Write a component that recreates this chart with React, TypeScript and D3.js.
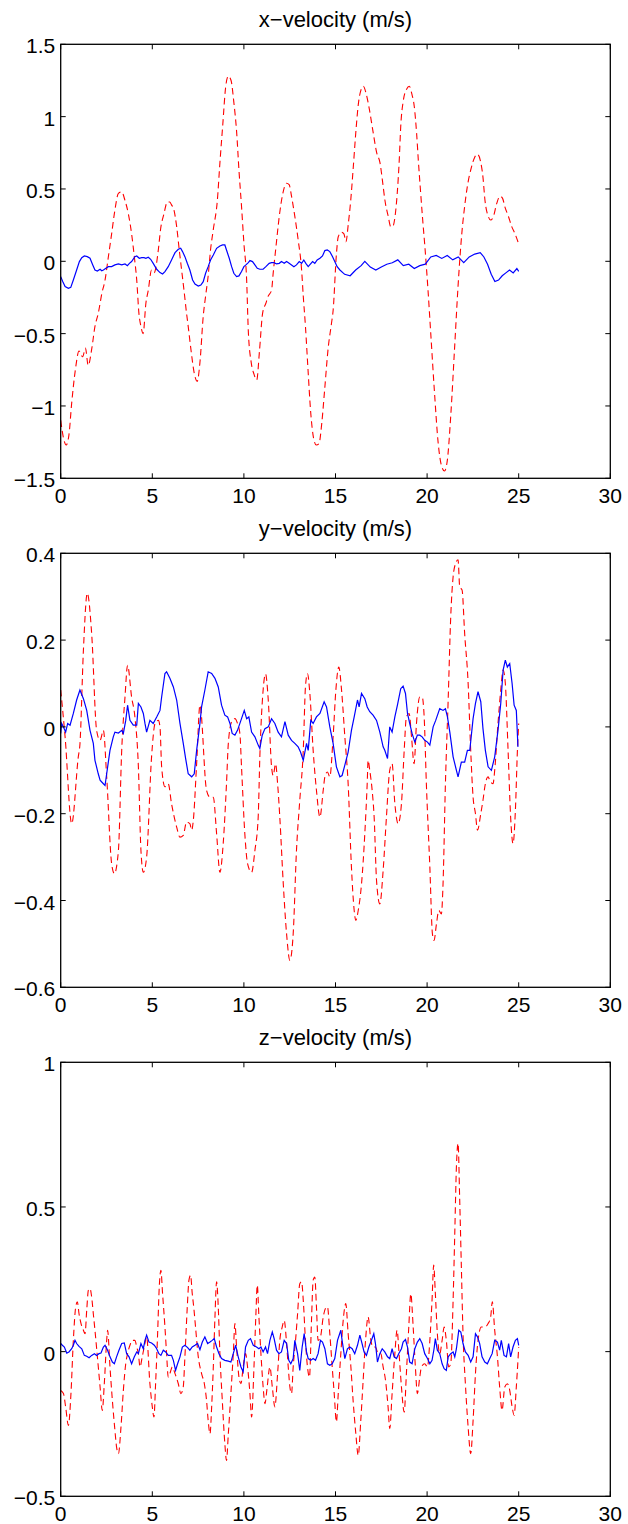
import React from "react";
import * as d3 from "d3";

type Pt = [number, number];

// time axis (s)
const xTicks = [0, 5, 10, 15, 20, 25, 30];

// x-velocity: blue = solid trace, red = dashed trace
const xVelBlue: Pt[] = [
  [0, -0.106], [0.11, -0.14], [0.24, -0.175], [0.42, -0.187], [0.55, -0.18], [0.69, -0.129], [0.87, -0.06],
  [1.02, -0.002], [1.15, 0.025], [1.29, 0.037], [1.45, 0.032], [1.6, 0.021], [1.75, -0.025], [1.87, -0.06],
  [2.0, -0.067], [2.15, -0.055], [2.24, -0.065], [2.33, -0.06], [2.47, -0.048], [2.6, -0.037], [2.78, -0.037],
  [2.96, -0.025], [3.15, -0.018], [3.33, -0.025], [3.51, -0.018], [3.64, -0.03], [3.75, -0.014], [3.87, -0.002],
  [4.05, 0.032], [4.15, 0.037], [4.29, 0.021], [4.42, 0.025], [4.55, 0.025], [4.65, 0.021], [4.78, 0.028],
  [4.91, 0.014], [5.05, -0.014], [5.24, -0.055], [5.42, -0.078], [5.56, -0.088], [5.69, -0.071], [5.87, -0.037],
  [6.05, 0.009], [6.24, 0.06], [6.42, 0.083], [6.55, 0.09], [6.65, 0.067], [6.78, 0.032], [6.91, -0.014],
  [7.05, -0.06], [7.2, -0.129], [7.33, -0.157], [7.51, -0.171], [7.65, -0.164], [7.78, -0.141], [7.91, -0.083],
  [8.05, -0.037], [8.18, 0.009], [8.33, 0.044], [8.51, 0.09], [8.69, 0.106], [8.84, 0.113], [8.96, 0.113],
  [9.05, 0.078], [9.2, 0.021], [9.33, -0.037], [9.45, -0.083], [9.6, -0.106], [9.73, -0.101], [9.87, -0.071],
  [10.0, -0.037], [10.11, -0.025], [10.24, -0.009], [10.33, 0.005], [10.47, -0.002], [10.6, -0.025],
  [10.73, -0.048], [10.87, -0.055], [11.05, -0.055], [11.2, -0.037], [11.38, -0.014], [11.51, -0.009],
  [11.65, -0.009], [11.78, -0.018], [11.93, -0.014], [12.05, -0.002], [12.2, -0.014], [12.33, -0.002],
  [12.47, -0.014], [12.6, -0.025], [12.73, -0.037], [12.87, -0.025], [13.02, -0.002], [13.15, -0.014],
  [13.27, 0.009], [13.38, -0.014], [13.51, -0.037], [13.64, -0.018], [13.75, -0.002], [13.87, -0.014],
  [14.0, 0.009], [14.15, 0.021], [14.29, 0.037], [14.42, 0.074], [14.55, 0.078], [14.69, 0.067], [14.84, 0.032],
  [14.96, -0.002], [15.09, -0.037], [15.24, -0.06], [15.5, -0.09], [15.8, -0.1], [16.1, -0.06], [16.4, -0.03],
  [16.6, 0.0], [16.9, -0.04], [17.2, -0.06], [17.5, -0.04], [17.8, -0.02], [18.1, -0.01], [18.4, 0.01],
  [18.7, -0.03], [19.0, -0.02], [19.3, -0.05], [19.6, -0.03], [19.9, -0.02], [20.2, 0.03], [20.5, 0.04],
  [20.8, 0.02], [21.1, 0.04], [21.4, 0.01], [21.7, 0.03], [22.0, -0.01], [22.3, 0.03], [22.6, 0.05],
  [22.9, 0.06], [23.1, 0.03], [23.3, -0.02], [23.5, -0.09], [23.7, -0.14], [23.9, -0.13], [24.1, -0.1],
  [24.3, -0.08], [24.5, -0.06], [24.7, -0.08], [24.9, -0.05], [25.0, -0.07],
];

const xVelRed: Pt[] = [
  [0, -1.1], [0.15, -1.22], [0.3, -1.27], [0.45, -1.2], [0.6, -0.98], [0.8, -0.75], [1.0, -0.62], [1.2, -0.66],
  [1.35, -0.6], [1.5, -0.72], [1.7, -0.6], [1.87, -0.45], [2.05, -0.36], [2.25, -0.22], [2.42, -0.13],
  [2.6, 0.03], [2.78, 0.19], [2.96, 0.355], [3.15, 0.47], [3.33, 0.48], [3.51, 0.42], [3.69, 0.33],
  [3.87, 0.19], [4.02, 0.03], [4.15, -0.13], [4.27, -0.36], [4.38, -0.45], [4.5, -0.5], [4.65, -0.29],
  [4.78, -0.2], [4.96, -0.06], [5.1, -0.08], [5.33, 0.08], [5.45, 0.22], [5.64, 0.33], [5.82, 0.41],
  [5.95, 0.41], [6.05, 0.39], [6.18, 0.355], [6.33, 0.24], [6.47, 0.08], [6.6, -0.06], [6.73, -0.2],
  [6.87, -0.36], [6.96, -0.45], [7.1, -0.6], [7.3, -0.78], [7.45, -0.83], [7.6, -0.7], [7.78, -0.38],
  [7.91, -0.24], [8.05, -0.1], [8.18, 0.08], [8.33, 0.22], [8.55, 0.42], [8.69, 0.68], [8.85, 0.95],
  [9.0, 1.2], [9.15, 1.28], [9.3, 1.25], [9.45, 1.1], [9.6, 0.9], [9.73, 0.63], [9.87, 0.38], [10.0, 0.125],
  [10.15, -0.13], [10.24, -0.48], [10.4, -0.7], [10.55, -0.78], [10.7, -0.82], [10.85, -0.62], [11.02, -0.36],
  [11.2, -0.29], [11.33, -0.24], [11.51, -0.2], [11.6, -0.08], [11.75, 0.1], [11.93, 0.31], [12.11, 0.46],
  [12.33, 0.54], [12.47, 0.53], [12.6, 0.45], [12.78, 0.31], [12.96, 0.15], [13.15, -0.06], [13.24, -0.24],
  [13.36, -0.45], [13.5, -0.75], [13.65, -1.05], [13.8, -1.22], [13.95, -1.27], [14.1, -1.26], [14.25, -1.12],
  [14.4, -0.9], [14.6, -0.6], [14.78, -0.43], [14.87, -0.34], [15.05, 0.05], [15.15, 0.17], [15.34, 0.2],
  [15.46, 0.19], [15.57, 0.135], [15.7, 0.26], [15.83, 0.42], [15.97, 0.65], [16.12, 0.91], [16.25, 1.09],
  [16.38, 1.18], [16.52, 1.21], [16.67, 1.16], [16.85, 1.05], [17.03, 0.91], [17.25, 0.75], [17.43, 0.68],
  [17.58, 0.54], [17.7, 0.42], [17.88, 0.31], [18.01, 0.24], [18.12, 0.24], [18.25, 0.31], [18.37, 0.47],
  [18.48, 0.7], [18.56, 0.93], [18.7, 1.11], [18.88, 1.19], [19.03, 1.21], [19.16, 1.16], [19.3, 1.07],
  [19.43, 0.88], [19.52, 0.7], [19.65, 0.47], [19.76, 0.285], [19.88, 0.1], [20.05, -0.2], [20.2, -0.5],
  [20.4, -0.9], [20.6, -1.25], [20.8, -1.42], [20.95, -1.45], [21.1, -1.38], [21.3, -1.05], [21.5, -0.6],
  [21.7, -0.15], [21.9, 0.2], [22.05, 0.38], [22.2, 0.52], [22.4, 0.64], [22.6, 0.72], [22.75, 0.74],
  [22.9, 0.7], [23.05, 0.58], [23.16, 0.42], [23.34, 0.31], [23.47, 0.285], [23.62, 0.31], [23.8, 0.4],
  [23.98, 0.45], [24.12, 0.435], [24.25, 0.375], [24.44, 0.31], [24.62, 0.24], [24.8, 0.19], [25.0, 0.12],
];

// y-velocity
const yVelBlue: Pt[] = [
  [0, -0.015], [0.05, 0.008], [0.15, 0], [0.27, -0.012], [0.38, 0.008], [0.51, 0.004], [0.69, 0.031],
  [0.87, 0.062], [1.05, 0.085], [1.24, 0.065], [1.42, 0.038], [1.6, -0.008], [1.78, -0.038], [1.87, -0.077],
  [2.05, -0.108], [2.15, -0.123], [2.33, -0.131], [2.42, -0.135], [2.51, -0.108], [2.69, -0.054],
  [2.87, -0.023], [2.96, -0.012], [3.15, -0.014], [3.33, -0.008], [3.42, -0.015], [3.55, 0.015], [3.65, 0.05],
  [3.78, 0.015], [3.96, 0.004], [4.15, 0.004], [4.24, 0.054], [4.38, 0.046], [4.51, 0.031], [4.6, 0.008],
  [4.69, -0.012], [4.87, 0.015], [5.05, 0.008], [5.24, 0.023], [5.42, 0.038], [5.51, 0.069], [5.69, 0.123],
  [5.78, 0.127], [5.96, 0.112], [6.15, 0.092], [6.33, 0.062], [6.51, 0.008], [6.69, -0.038], [6.82, -0.073],
  [6.96, -0.108], [7.15, -0.115], [7.29, -0.108], [7.42, -0.054], [7.6, 0.008], [7.69, 0.046], [7.87, 0.085],
  [8.05, 0.127], [8.24, 0.123], [8.42, 0.112], [8.6, 0.092], [8.78, 0.05], [8.96, 0.027], [9.11, 0.023],
  [9.24, 0.008], [9.36, -0.015], [9.51, -0.019], [9.65, -0.008], [9.87, 0.019], [10.02, 0.038], [10.15, 0.019],
  [10.27, 0.023], [10.42, -0.012], [10.6, -0.023], [10.78, -0.042], [10.87, -0.05], [11.0, -0.019],
  [11.15, -0.004], [11.33, 0], [11.51, 0.019], [11.69, 0.008], [11.87, -0.012], [12.05, -0.023], [12.24, 0.012],
  [12.42, -0.019], [12.6, -0.031], [12.78, -0.038], [12.96, -0.046], [13.09, -0.058], [13.24, -0.077],
  [13.42, -0.038], [13.51, -0.054], [13.65, 0.015], [13.78, 0.008], [13.96, 0.023], [14.15, 0.031],
  [14.38, 0.058], [14.51, 0.046], [14.69, 0], [14.87, -0.038], [15.05, -0.092], [15.24, -0.115],
  [15.36, -0.112], [15.51, -0.088], [15.69, -0.058], [15.87, -0.008], [16.02, 0.023], [16.2, 0.062],
  [16.29, 0.046], [16.42, 0.077], [16.6, 0.065], [16.73, 0.046], [16.87, 0.035], [17.05, 0.027], [17.24, 0.015],
  [17.42, -0.012], [17.6, -0.046], [17.69, -0.054], [17.84, -0.073], [17.96, 0], [18.09, -0.012], [18.24, 0.023],
  [18.38, 0.05], [18.56, 0.088], [18.69, 0.094], [18.82, 0.077], [18.93, 0.031], [19.05, 0.008],
  [19.18, -0.015], [19.33, -0.035], [19.47, -0.019], [19.6, -0.019], [19.73, -0.023], [19.87, -0.031],
  [20.02, -0.035], [20.15, -0.042], [20.33, 0], [20.47, 0.015], [20.69, 0.042], [20.87, 0.038], [21.0, 0.042],
  [21.11, 0.023], [21.24, -0.012], [21.42, -0.069], [21.6, -0.1], [21.69, -0.115], [21.87, -0.081],
  [22.05, -0.081], [22.2, -0.054], [22.33, -0.054], [22.51, 0.019], [22.64, 0.054], [22.78, 0.081],
  [22.93, 0.058], [23.05, -0.004], [23.18, -0.054], [23.33, -0.092], [23.51, -0.1], [23.69, -0.069],
  [23.87, -0.008], [24.02, 0.054], [24.15, 0.131], [24.27, 0.154], [24.38, 0.138], [24.51, 0.146],
  [24.64, 0.1], [24.75, 0.05], [24.87, 0.038], [24.96, -0.046],
];

const yVelRed: Pt[] = [
  [0, 0.085], [0.24, -0.023], [0.6, -0.223], [0.96, -0.069], [1.05, -0.04], [1.24, 0.177], [1.45, 0.308],
  [1.69, 0.215], [1.96, -0.008], [2.15, -0.031], [2.33, -0.008], [2.51, -0.115], [2.78, -0.315], [2.93, -0.338],
  [3.15, -0.285], [3.33, -0.054], [3.51, 0.069], [3.65, 0.142], [3.87, 0.069], [4.05, 0.023], [4.24, -0.092],
  [4.38, -0.285], [4.51, -0.335], [4.69, -0.3], [4.96, -0.069], [5.15, 0.008], [5.33, 0.015], [5.42, 0],
  [5.51, -0.092], [5.69, -0.138], [5.87, -0.131], [6.05, -0.177], [6.33, -0.231], [6.51, -0.254],
  [6.69, -0.25], [6.87, -0.219], [7.05, -0.223], [7.15, -0.238], [7.24, -0.215], [7.42, -0.085], [7.6, 0.05],
  [7.96, -0.146], [8.15, -0.162], [8.33, -0.162], [8.51, -0.246], [8.69, -0.335], [8.87, -0.269],
  [9.05, -0.131], [9.15, -0.038], [9.33, 0.012], [9.51, 0.019], [9.65, 0.008], [9.78, -0.015], [9.87, -0.092],
  [10.05, -0.246], [10.2, -0.315], [10.42, -0.335], [10.6, -0.285], [10.78, -0.208], [10.87, -0.069],
  [11.05, 0.085], [11.18, 0.122], [11.33, 0.062], [11.51, -0.092], [11.6, -0.112], [11.73, -0.085],
  [11.84, -0.131], [11.96, -0.208], [12.15, -0.362], [12.33, -0.477], [12.51, -0.538], [12.69, -0.477],
  [12.87, -0.285], [13.05, -0.169], [13.24, -0.054], [13.36, 0.092], [13.47, 0.123], [13.6, 0.077],
  [13.78, -0.054], [13.96, -0.146], [14.15, -0.208], [14.33, -0.146], [14.42, -0.115], [14.56, -0.104],
  [14.69, -0.115], [14.87, -0.023], [15.02, 0.085], [15.18, 0.138], [15.33, 0.085], [15.51, -0.023],
  [15.69, -0.131], [15.87, -0.323], [16.02, -0.423], [16.11, -0.446], [16.24, -0.423], [16.42, -0.362],
  [16.6, -0.246], [16.73, -0.131], [16.78, -0.077], [16.87, -0.1], [17.0, -0.146], [17.11, -0.208],
  [17.24, -0.354], [17.42, -0.408], [17.6, -0.331], [17.78, -0.208], [17.96, -0.1], [18.09, -0.085],
  [18.24, -0.177], [18.42, -0.223], [18.6, -0.177], [18.75, -0.054], [18.87, 0.023], [19.02, 0.031],
  [19.15, -0.023], [19.29, -0.085], [19.42, 0.008], [19.6, 0.069], [19.73, 0.069], [19.84, 0.023],
  [19.96, -0.131], [20.15, -0.323], [20.29, -0.477], [20.38, -0.492], [20.51, -0.454], [20.64, -0.423],
  [20.78, -0.431], [20.87, -0.362], [21.0, -0.131], [21.15, 0.062], [21.29, 0.254], [21.42, 0.346],
  [21.56, 0.377], [21.69, 0.385], [21.78, 0.323], [21.91, 0.315], [22.05, 0.215], [22.24, 0.1],
  [22.38, -0.054], [22.51, -0.162], [22.64, -0.2], [22.75, -0.238], [22.93, -0.2], [23.05, -0.169],
  [23.18, -0.131], [23.33, -0.115], [23.42, -0.123], [23.6, -0.131], [23.69, -0.1], [23.87, 0.008],
  [24.02, 0.085], [24.15, 0.131], [24.27, 0.1], [24.42, -0.054], [24.56, -0.208], [24.69, -0.269],
  [24.82, -0.192], [24.93, -0.054], [25.0, 0.008],
];

// z-velocity
const zVelBlue: Pt[] = [
  [0, 0.028], [0.09, 0.022], [0.2, 0.016], [0.33, -0.005], [0.45, -0.001], [0.6, 0.01], [0.69, 0.022],
  [0.78, 0.039], [0.87, 0.028], [1.0, 0.018], [1.15, 0.01], [1.29, -0.013], [1.42, -0.016], [1.55, -0.021],
  [1.69, -0.013], [1.84, -0.007], [1.96, -0.013], [2.09, -0.007], [2.2, -0.005], [2.33, 0.016], [2.42, 0.022],
  [2.56, 0.005], [2.69, -0.018], [2.82, -0.036], [2.93, -0.042], [3.05, -0.018], [3.18, 0.005], [3.33, 0.028],
  [3.47, 0.03], [3.6, -0.007], [3.73, -0.018], [3.87, -0.042], [4.02, -0.018], [4.15, -0.001], [4.24, -0.007],
  [4.38, 0.028], [4.51, 0.01], [4.6, 0.039], [4.69, 0.057], [4.82, 0.033], [4.96, 0.03], [5.11, 0.022],
  [5.24, 0.01], [5.36, -0.007], [5.47, -0.013], [5.6, 0.005], [5.73, -0.001], [5.87, -0.013], [6.05, -0.013],
  [6.15, -0.03], [6.27, -0.065], [6.38, -0.042], [6.51, -0.018], [6.64, 0.016], [6.78, 0.022], [6.93, 0.014],
  [7.05, 0.005], [7.18, 0.016], [7.33, 0.022], [7.47, 0.028], [7.6, 0.007], [7.73, 0.033], [7.87, 0.051],
  [8.02, 0.028], [8.15, 0.033], [8.27, 0.039], [8.38, 0.045], [8.51, 0.016], [8.64, -0.007], [8.78, -0.024],
  [8.96, -0.03], [9.15, -0.033], [9.29, -0.036], [9.42, -0.007], [9.55, 0.022], [9.69, -0.018], [9.84, -0.053],
  [9.96, -0.07], [10.09, 0.016], [10.24, 0.039], [10.36, 0.045], [10.51, 0.022], [10.69, 0.016], [10.82, 0.01],
  [10.93, 0.016], [11.05, -0.001], [11.18, 0.016], [11.29, -0.007], [11.42, 0.039], [11.55, 0.068],
  [11.65, 0.045], [11.78, 0.005], [11.91, -0.007], [12.05, -0.001], [12.2, 0.039], [12.33, 0.028],
  [12.45, -0.03], [12.56, -0.042], [12.69, -0.024], [12.78, 0.039], [12.93, -0.007], [13.05, -0.065],
  [13.18, 0.016], [13.29, 0.062], [13.42, -0.001], [13.51, -0.024], [13.65, -0.03], [13.78, -0.024],
  [13.91, -0.03], [14.05, -0.007], [14.18, 0.039], [14.29, 0.033], [14.42, 0.01], [14.56, -0.042],
  [14.69, -0.047], [14.82, -0.042], [14.96, -0.024], [15.11, 0.039], [15.29, 0.074], [15.36, 0.039],
  [15.51, -0.024], [15.65, 0.01], [15.78, 0.016], [15.91, 0.01], [16.05, -0.007], [16.2, 0.022], [16.33, 0.057],
  [16.45, 0.028], [16.56, -0.001], [16.69, -0.013], [16.82, 0.016], [16.96, 0.039], [17.09, 0.062],
  [17.18, 0.028], [17.29, -0.036], [17.42, -0.007], [17.55, 0.01], [17.69, -0.001], [17.84, -0.018],
  [17.96, -0.024], [18.09, 0.01], [18.2, -0.018], [18.33, -0.024], [18.45, -0.007], [18.6, 0.01], [18.69, 0.033],
  [18.82, 0.042], [18.93, 0.016], [19.05, -0.036], [19.18, -0.042], [19.33, 0.01], [19.47, 0.033], [19.6, 0.045],
  [19.73, 0.028], [19.87, -0.007], [20.02, -0.024], [20.15, -0.042], [20.27, -0.03], [20.38, 0.01],
  [20.45, 0.045], [20.56, 0.005], [20.69, -0.007], [20.82, -0.042], [20.93, -0.059], [21.05, -0.065],
  [21.15, -0.018], [21.29, -0.007], [21.42, -0.001], [21.51, -0.018], [21.6, 0.01], [21.73, 0.074],
  [21.84, 0.068], [21.96, 0.028], [22.09, -0.001], [22.24, -0.013], [22.38, -0.036], [22.51, -0.018],
  [22.64, 0.062], [22.75, 0.051], [22.87, 0.028], [23.0, -0.018], [23.15, -0.036], [23.29, -0.042],
  [23.42, -0.024], [23.55, -0.007], [23.69, 0.039], [23.84, 0.033], [23.96, 0.005], [24.05, 0.039],
  [24.2, -0.013], [24.33, -0.018], [24.45, 0.028], [24.56, -0.018], [24.69, 0.016], [24.82, 0.039],
  [24.93, 0.045], [25.0, 0.022],
];

const zVelRed: Pt[] = [
  [0, -0.134], [0.15, -0.145], [0.27, -0.191], [0.42, -0.255], [0.56, -0.145], [0.69, 0.039], [0.82, 0.155],
  [0.91, 0.172], [1.0, 0.131], [1.11, 0.097], [1.24, 0.074], [1.33, 0.062], [1.42, 0.143], [1.51, 0.212],
  [1.6, 0.218], [1.69, 0.189], [1.78, 0.131], [1.87, 0.074], [2.02, -0.03], [2.15, -0.122], [2.27, -0.203],
  [2.38, -0.111], [2.51, 0.039], [2.56, 0.074], [2.69, -0.053], [2.82, -0.168], [2.96, -0.272], [3.05, -0.33],
  [3.15, -0.353], [3.29, -0.261], [3.42, -0.134], [3.55, -0.042], [3.65, -0.007], [3.78, 0.022], [3.91, 0.039],
  [4.05, 0.039], [4.15, 0.016], [4.24, -0.007], [4.33, -0.053], [4.45, -0.018], [4.56, 0.016], [4.69, 0.051],
  [4.87, -0.111], [5.0, -0.191], [5.09, -0.226], [5.18, -0.111], [5.29, 0.062], [5.38, 0.224], [5.47, 0.281],
  [5.56, 0.201], [5.69, 0.085], [5.78, -0.007], [5.87, -0.088], [5.96, -0.076], [6.09, -0.053], [6.24, -0.076],
  [6.42, -0.111], [6.56, -0.145], [6.69, -0.122], [6.78, -0.018], [6.91, 0.155], [7.0, 0.247], [7.09, 0.264],
  [7.18, 0.201], [7.27, 0.149], [7.36, 0.085], [7.51, -0.018], [7.69, -0.076], [7.84, -0.111], [7.96, -0.168],
  [8.05, -0.238], [8.15, -0.284], [8.24, -0.191], [8.33, -0.053], [8.42, 0.12], [8.51, 0.241], [8.6, 0.155],
  [8.69, -0.007], [8.82, -0.168], [8.96, -0.318], [9.05, -0.376], [9.15, -0.284], [9.29, -0.145],
  [9.42, -0.007], [9.51, 0.097], [9.6, 0.016], [9.73, -0.088], [9.84, -0.111], [9.96, -0.053], [10.09, -0.007],
  [10.2, -0.053], [10.33, -0.145], [10.42, -0.226], [10.55, -0.053], [10.65, 0.12], [10.73, 0.23],
  [10.82, 0.12], [10.93, -0.007], [11.05, -0.122], [11.15, -0.18], [11.25, -0.134], [11.42, -0.053],
  [11.55, -0.122], [11.69, -0.191], [11.84, -0.076], [11.96, 0.039], [12.09, 0.085], [12.2, 0.108],
  [12.33, 0.028], [12.42, -0.053], [12.51, -0.122], [12.6, -0.145], [12.69, -0.053], [12.82, 0.039],
  [12.93, 0.131], [13.05, 0.235], [13.15, 0.241], [13.24, 0.178], [13.36, 0.039], [13.47, -0.053],
  [13.58, -0.088], [13.69, 0.108], [13.78, 0.247], [13.87, 0.258], [13.96, 0.155], [14.05, 0.039],
  [14.18, 0.051], [14.33, 0.12], [14.45, 0.149], [14.56, 0.155], [14.69, 0.062], [14.82, -0.053],
  [14.93, -0.145], [15.05, -0.243], [15.15, -0.145], [15.29, -0.007], [15.42, 0.108], [15.56, 0.166],
  [15.69, 0.062], [15.84, -0.053], [15.96, -0.168], [16.11, -0.284], [16.24, -0.359], [16.38, -0.238],
  [16.51, -0.099], [16.64, 0.039], [16.78, 0.12], [16.93, 0.039], [17.05, 0.016], [17.18, 0.016],
  [17.33, -0.007], [17.47, -0.007], [17.6, -0.053], [17.73, -0.099], [17.87, -0.191], [17.96, -0.266],
  [18.09, -0.145], [18.24, -0.007], [18.36, 0.074], [18.47, -0.007], [18.6, -0.122], [18.75, -0.209],
  [18.87, -0.076], [19.0, 0.085], [19.11, 0.2], [19.24, 0.085], [19.36, -0.053], [19.47, -0.145],
  [19.6, -0.088], [19.69, -0.053], [19.87, -0.042], [20.02, -0.053], [20.15, 0.039], [20.27, 0.178],
  [20.36, 0.299], [20.45, 0.201], [20.56, 0.062], [20.69, -0.007], [20.82, 0.039], [20.93, 0.085],
  [21.05, 0.039], [21.18, -0.053], [21.29, -0.042], [21.42, 0.178], [21.51, 0.408], [21.6, 0.639],
  [21.69, 0.72], [21.78, 0.524], [21.87, 0.293], [21.96, 0.062], [22.09, -0.111], [22.24, -0.261],
  [22.38, -0.353], [22.51, -0.238], [22.64, -0.076], [22.78, 0.039], [22.96, 0.085], [23.15, 0.085],
  [23.33, 0.097], [23.47, 0.12], [23.56, 0.172], [23.69, 0.074], [23.84, -0.018], [23.96, -0.122],
  [24.09, -0.203], [24.24, -0.122], [24.38, -0.111], [24.51, -0.134], [24.64, -0.191], [24.75, -0.22],
  [24.87, -0.122], [24.96, -0.03], [25.0, 0.016],
];

const xVelTicks = [-1.5, -1, -0.5, 0, 0.5, 1, 1.5];
const yVelTicks = [-0.6, -0.4, -0.2, 0, 0.2, 0.4];
const zVelTicks = [-0.5, 0, 0.5, 1];

const panels = [
  { title: "x\u2212velocity (m/s)", ticks: xVelTicks, blue: xVelBlue, red: xVelRed },
  { title: "y\u2212velocity (m/s)", ticks: yVelTicks, blue: yVelBlue, red: yVelRed },
  { title: "z\u2212velocity (m/s)", ticks: zVelTicks, blue: zVelBlue, red: zVelRed },
];

const W = 628;
const H = 1524;
const LEFT = 60.7;
const RIGHT = 610.3;
const TOP = 44.3;
const STEP = 509;
const PH = 434;
const TICK = 5;
const FONT = "'Liberation Sans', Arial, Helvetica, sans-serif";

const fmt = (v: number) => (v < 0 ? "\u2212" : "") + String(Math.abs(v));

const Panel = ({ p, top }: { p: (typeof panels)[number]; top: number }) => {
  const bottom = top + PH;
  const x = d3.scaleLinear().domain([0, 30]).range([LEFT, RIGHT]);
  const y = d3
    .scaleLinear()
    .domain([p.ticks[0], p.ticks[p.ticks.length - 1]])
    .range([bottom, top]);
  const solid = d3
    .line<Pt>()
    .x((d) => x(d[0]))
    .y((d) => y(d[1]));
  const dashed = d3
    .line<Pt>()
    .x((d) => x(d[0]))
    .y((d) => y(d[1]))
    .curve(d3.curveMonotoneX);

  return (
    <g>
      <text
        x={(LEFT + RIGHT) / 2}
        y={top - 17.5}
        textAnchor="middle"
        fontSize={22}
        fontFamily={FONT}
        fill="#000"
      >
        {p.title}
      </text>
      <path d={dashed(p.red) ?? ""} fill="none" stroke="#ff0000" strokeWidth={1.1} strokeDasharray="6.5,4" />
      <path d={solid(p.blue) ?? ""} fill="none" stroke="#0000ff" strokeWidth={1.2} />
      <rect x={LEFT} y={top} width={RIGHT - LEFT} height={PH} fill="none" stroke="#000" strokeWidth={1.3} />
      {xTicks.map((t) => (
        <g key={"x" + t}>
          <line x1={x(t)} x2={x(t)} y1={bottom} y2={bottom - TICK} stroke="#000" />
          <line x1={x(t)} x2={x(t)} y1={top} y2={top + TICK} stroke="#000" />
          <text x={x(t)} y={bottom + 24.5} textAnchor="middle" fontSize={21} fontFamily={FONT} fill="#000">
            {fmt(t)}
          </text>
        </g>
      ))}
      {p.ticks.map((v) => (
        <g key={"y" + v}>
          <line x1={LEFT} x2={LEFT + TICK} y1={y(v)} y2={y(v)} stroke="#000" />
          <line x1={RIGHT} x2={RIGHT - TICK} y1={y(v)} y2={y(v)} stroke="#000" />
          <text x={LEFT - 5.5} y={y(v) + 9} textAnchor="end" fontSize={21} fontFamily={FONT} fill="#000">
            {fmt(v)}
          </text>
        </g>
      ))}
    </g>
  );
};

export default function App() {
  return (
    <svg
      width={W}
      height={H}
      viewBox={`0 0 ${W} ${H}`}
      style={{ position: "absolute", left: 0, top: 0, background: "#fff" }}
    >
      {panels.map((p, i) => (
        <Panel key={p.title} p={p} top={TOP + i * STEP} />
      ))}
    </svg>
  );
}
